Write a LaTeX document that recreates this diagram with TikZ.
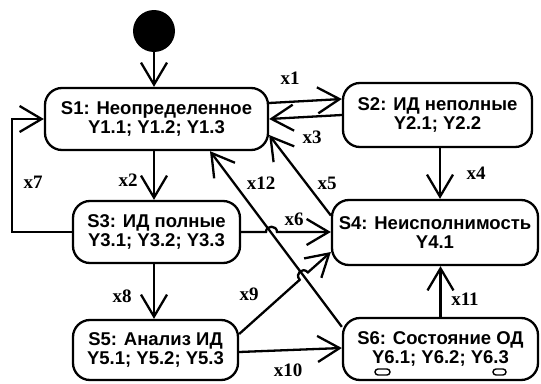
\documentclass[tikz,border=0pt]{standalone}
\usepackage{fontspec}
\setmainfont{Liberation Sans}
\newfontfamily\labelfont{Liberation Serif}
\usetikzlibrary{arrows.meta}
\begin{document}
\begin{tikzpicture}[x=1pt,y=-1pt,
  state/.style={draw, line width=2.3pt, rounded corners=17pt, align=center,
    font=\bfseries\fontsize{18.5}{18.5}\selectfont, inner sep=0pt},
  trans/.style={line width=2.3pt, -{Straight Barb[length=22pt,width=26pt]}},
  lbl/.style={font=\labelfont\bfseries\fontsize{19}{19}\selectfont, inner sep=0pt},
  capsule/.style={line width=1.4pt, rounded corners=3pt}
]
\useasboundingbox (0,0) rectangle (541,383);

% nodes
\node[circle, fill=black, minimum size=42pt, inner sep=0pt] (init) at (154,31) {};
\node[state, minimum width=223pt, minimum height=62pt] (S1) at (156.5,119) {S1: Неопределенное\\Y1.1; Y1.2; Y1.3};
\node[state, minimum width=189pt, minimum height=64pt] (S2) at (437.5,115) {S2: ИД неполные\\Y2.1; Y2.2};
\node[state, minimum width=167pt, minimum height=62pt] (S3) at (156.5,232) {S3: ИД полные\\Y3.1; Y3.2; Y3.3};
\node[state, minimum width=206pt, minimum height=65pt] (S4) at (435,232.5) {S4: Неисполнимость\\Y4.1};
\node[state, minimum width=165pt, minimum height=60pt] (S5) at (155.5,350) {S5: Анализ ИД\\Y5.1; Y5.2; Y5.3};
\node[state, minimum width=195pt, minimum height=62pt] (S6) at (440.5,349) {S6: Состояние ОД\\Y6.1; Y6.2; Y6.3};

% small markers under S6 text
\draw[capsule] (375,369) rectangle (390,375);
\draw[capsule] (493,369) rectangle (506,375);

% connectors
\draw[trans] (init) -- (init |- S1.north);
\draw[trans] ([yshift=16pt]S1.east) -- ([yshift=16pt]S2.west);
\draw[trans] (S2.west) -- (S1.east);
\draw[trans] ([xshift=2.5pt]S2.south) -- ([xshift=2.5pt]S2.south |- S4.north);
\draw[trans] (init |- S1.south) -- (init |- S3.north);
\draw[trans] (init |- S3.south) -- (init |- S5.north);
\draw[trans] (S3.west) -- ++(-60,0) |- (S1.west);
\draw[trans] (S3.east) -- (266,232) .. controls (266,225) and (277,225) .. (277,232) -- (S4.west |- S3.east);
\draw[trans] ([yshift=17pt]S4.west) -- ([yshift=-16pt]S1.east);
\draw[trans] ([yshift=-10pt]S6.north west) -- ([xshift=53.5pt]S1.south);
\draw[trans] ([yshift=16pt]S5.east) -- (299.7,279.8) .. controls (294.4,273.8) and (302.6,266.4) .. (307.9,272.4) -- ([yshift=-19.5pt]S4.west);
\draw[trans] ([yshift=-2pt]S5.east) -- ([yshift=1pt]S6.west);
\draw[trans] (S6.north) -- (S6.north |- S4.south);

% labels
\node[lbl] (lx1) at (290,78) {x1};
\node[lbl] (lx2) at (128,180) {x2};
\node[lbl] (lx3) at (312,137) {x3};
\node[lbl] (lx4) at (476,173) {x4};
\node[lbl] (lx5) at (327,183) {x5};
\node[lbl] (lx6) at (294,219) {x6};
\node[lbl] (lx7) at (33,182) {x7};
\node[lbl] (lx8) at (122,296) {x8};
\node[lbl] (lx9) at (249,294) {x9};
\node[lbl] (lx10) at (288,370) {x10};
\node[lbl] (lx11) at (465,299) {x11};
\node[lbl] (lx12) at (261,183) {x12};
\end{tikzpicture}
\end{document}
